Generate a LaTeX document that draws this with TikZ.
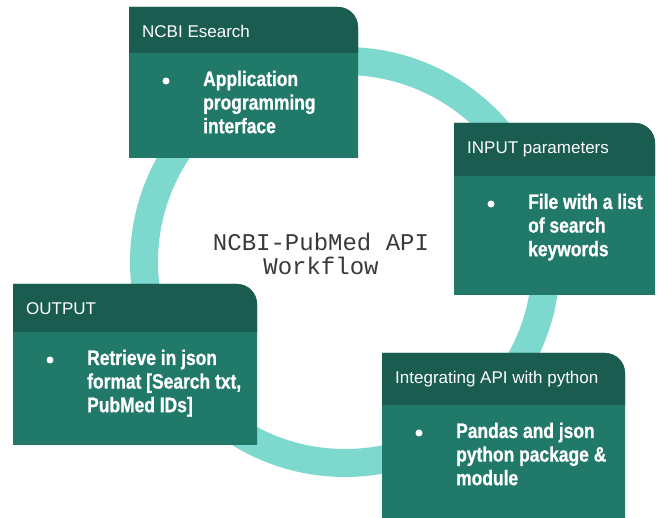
\documentclass[tikz,border=0pt]{standalone}
\usepackage{fontspec}
\setmainfont{Liberation Sans}
\newfontfamily\hdrfnt{Liberation Sans}
\newfontfamily\bodyfnt[FakeStretch=0.83,FakeBold=0.8]{Liberation Sans}
\newfontfamily\monofnt{Liberation Mono}
\definecolor{hdrc}{RGB}{27,92,80}
\definecolor{bodyc}{RGB}{33,121,106}
\definecolor{ringc}{RGB}{125,216,205}
\definecolor{midtxt}{RGB}{58,58,58}
\tikzset{
  hdrtext/.style={text=white, inner sep=0pt, anchor=base west, font=\hdrfnt\fontsize{17}{20}\selectfont},
  bodytext/.style={text=white, inner sep=0pt, anchor=base west, align=left, font=\bodyfnt\bfseries\fontsize{21}{23.6}\selectfont},
  bulletdot/.style={circle, fill=white, inner sep=0pt, minimum size=7pt},
  ringnode/.style={circle, draw=ringc, line width=28pt, inner sep=0pt, minimum size=402pt},
  midtext/.style={text=midtxt, inner sep=0pt, anchor=base, align=center, font=\monofnt\fontsize{24}{24}\selectfont}
}
% #1 name, #2 x1, #3 ytop, #4 x2, #5 yheader, #6 ybottom, #7 header, #8 body (3 lines, anchored at last baseline)
\newcommand{\wfbox}[8]{%
  \fill[bodyc] (#2,#6) -- (#2,#3) -- ({#4-20},#3) .. controls ({#4-9},#3) and (#4,{#3+9}) .. (#4,{#3+20}) -- (#4,#6) -- cycle;
  \fill[hdrc] (#2,#5) -- (#2,#3) -- ({#4-20},#3) .. controls ({#4-9},#3) and (#4,{#3+9}) .. (#4,{#3+20}) -- (#4,#5) -- cycle;
  \node[hdrtext] (#1h) at ({#2+13},{#3+31}) {#7};
  \node[bulletdot] (#1d) at ({#2+37},{#5+28}) {};
  \node[bodytext] (#1b) at ({#2+74},{#5+33+47.2}) {#8};
}
\begin{document}
\begin{tikzpicture}[x=1pt,y=-1pt]
\useasboundingbox[fill=white] (0,0) rectangle (657,518);
\node[ringnode] (ring) at (345,262) {};
\node[midtext] (title) at (321,275) {NCBI-PubMed API\\Workflow};
\wfbox{esearch}{129}{7}{358}{53}{158}{NCBI Esearch}{Application\\programming\\interface}
\wfbox{input}{454}{123}{655}{176}{295}{INPUT parameters}{File with a list\\of search\\keywords}
\wfbox{output}{13}{284}{257}{332}{445}{OUTPUT}{Retrieve in json\\format [Search txt,\\PubMed IDs]}
\wfbox{integ}{382}{353}{625}{405}{518}{Integrating API with python}{Pandas and json\\python package \&\\module}
\end{tikzpicture}
\end{document}
